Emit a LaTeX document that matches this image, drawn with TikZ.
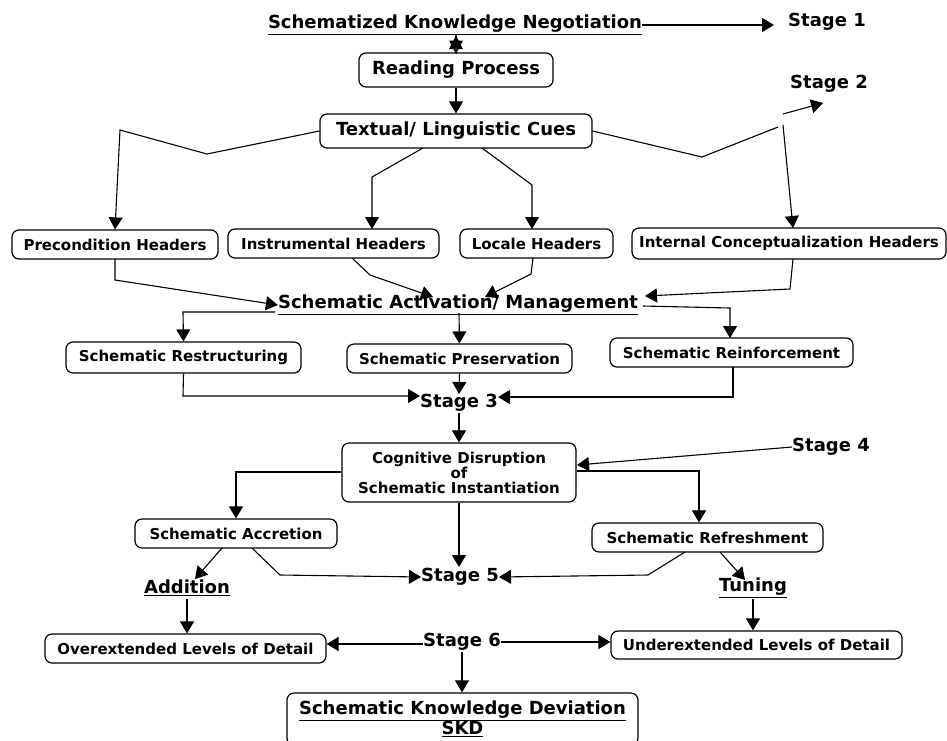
\documentclass[tikz,border=0pt]{standalone}
\usepackage{fontspec}
\setmainfont{DejaVu Sans}
\usetikzlibrary{arrows.meta}
\begin{document}
\begin{tikzpicture}[x=1pt,y=-1pt,
  box/.style={draw, rounded corners=7pt, line width=1.2pt, inner sep=0pt, align=center},
  bigt/.style={font=\fontsize{18}{20}\selectfont\bfseries, inner sep=0pt},
  mid/.style={font=\fontsize{18}{20}\selectfont\bfseries},
  smallt/.style={font=\fontsize{15}{15}\selectfont\bfseries},
  arr/.style={-{Triangle[length=12pt,width=14pt]}, line width=1.1pt},
  ln/.style={line width=1.1pt}]
\useasboundingbox (0,0) rectangle (947,740);
% text nodes
\node[bigt] (title) at (455,25) {\underline{Schematized Knowledge Negotiation}};
\node[bigt] (s1) at (827,22) {Stage 1};
\node[bigt] (s2) at (829,84) {Stage 2};
\node[bigt] (act) at (458,305) {\underline{Schematic Activation/ Management}};
\node[bigt] (s3) at (459,403) {Stage 3};
\node[bigt] (s4) at (831,447) {Stage 4};
\node[bigt] (s5) at (460,577) {Stage 5};
\node[bigt] (s6) at (462,642) {Stage 6};
\node[bigt] (add) at (187,588) {\underline{Addition}};
\node[bigt] (tun) at (753,588) {\underline{Tuning}};
% boxes
\node[box, mid, minimum width=194pt, minimum height=34pt] (rp) at (456,70) {Reading Process};
\node[box, mid, minimum width=272pt, minimum height=34pt] (tc) at (456,131) {Textual/ Linguistic Cues};
\node[box, smallt, minimum width=206pt, minimum height=29pt] (pre) at (115,244.5) {Precondition Headers};
\node[box, smallt, minimum width=211pt, minimum height=29pt] (ins) at (333.5,243.5) {Instrumental Headers};
\node[box, smallt, minimum width=153pt, minimum height=29pt] (loc) at (536.5,243.5) {Locale Headers};
\node[box, smallt, minimum width=314pt, minimum height=31pt] (int) at (789,243.5) {Internal Conceptualization Headers};
\node[box, smallt, minimum width=235pt, minimum height=31pt] (res) at (183.5,357.5) {Schematic Restructuring};
\node[box, smallt, minimum width=225pt, minimum height=29pt] (pres) at (459.5,358.5) {Schematic Preservation};
\node[box, smallt, minimum width=243pt, minimum height=29pt] (rei) at (731.5,352.5) {Schematic Reinforcement};
\node[box, smallt, minimum width=234pt, minimum height=59pt] (cog) at (459,472.5) {Cognitive Disruption\\of\\Schematic Instantiation};
\node[box, smallt, minimum width=202pt, minimum height=29pt] (acc) at (236,533.5) {Schematic Accretion};
\node[box, smallt, minimum width=231pt, minimum height=29pt] (ref) at (707.5,537.5) {Schematic Refreshment};
\node[box, smallt, minimum width=281pt, minimum height=29pt] (ovr) at (185.5,648.5) {Overextended Levels of Detail};
\node[box, smallt, minimum width=291pt, minimum height=28pt] (und) at (756.5,645) {Underextended Levels of Detail};
\node[box, font=\fontsize{18}{19.5}\selectfont\bfseries, minimum width=351pt, minimum height=52pt] (skd) at (462.5,719) {\underline{Schematic Knowledge Deviation}\\\underline{SKD}};
% connectors
\draw[arr] (title.east) -- ([xshift=-14pt]s1.west |- title.east);
\draw[ln] (456,34) -- (rp.north);
\fill (456,35.5) -- (449,49) -- (463,49) -- cycle;
\fill (456,54) -- (449,40.5) -- (463,40.5) -- cycle;
\draw[arr] (rp) -- (tc);
\draw[arr] (tc.west) -- (207,154) -- (120,130) -- (pre.north);
\draw[arr] (423,148) -- (372,177) -- (372,229);
\draw[arr] (482,148) -- (532,185) -- (532,229);
\draw[ln] (tc.east) -- (702,157) -- (778,127);
\draw[arr] (783,125) -- (793,228);
\draw[arr] (783,114) -- (823,103);
\draw[arr] (115,259) -- (115,280) -- (act.west);
\draw[arr] (352,258) -- (370,275) -- (433,297);
\draw[arr] (533,258) -- (531,274) -- (485,297);
\draw[arr] (793,259) -- (790,289) -- (645,296);
\draw[arr] (275,312) -- (183,312) -- (res.north);
\draw[arr] (459,313) -- (pres.north);
\draw[arr] (643,306) -- (730,308) -- (730,338);
\draw[arr] (res.south) -- (183,396) -- (s3.west |- 0,396);
\draw[arr] (pres.south) -- (459,394);
\draw[arr] (733,367) -- (733,397) -- (s3.east |- 0,397);
\draw[arr] (459,413) -- (cog.north);
\draw[arr] (s4.west) -- (577,465);
\draw[arr] (577,471) -- (699,471) -- (ref.north -| 699,0);
\draw[arr] (cog.west |- 0,472) -- (236,472) -- (acc.north);
\draw[arr] (cog.south) -- (459,567);
\draw[arr] (252,548) -- (280,575) -- (s5.west |- 0,577);
\draw[arr] (685,552) -- (648,575) -- (s5.east |- 0,577);
\draw[arr] (222,548) -- (195,579);
\draw[arr] (187,599) -- (ovr.north -| 187,0);
\draw[arr] (720,552) -- (745,580);
\draw[arr] (753,599) -- (und.north -| 753,0);
\draw[arr] (s6.west |- 0,644) -- (ovr.east |- 0,644);
\draw[arr] (s6.east |- 0,642) -- (und.west |- 0,642);
\draw[arr] (462,652) -- (skd.north -| 462,0);
\end{tikzpicture}
\end{document}
